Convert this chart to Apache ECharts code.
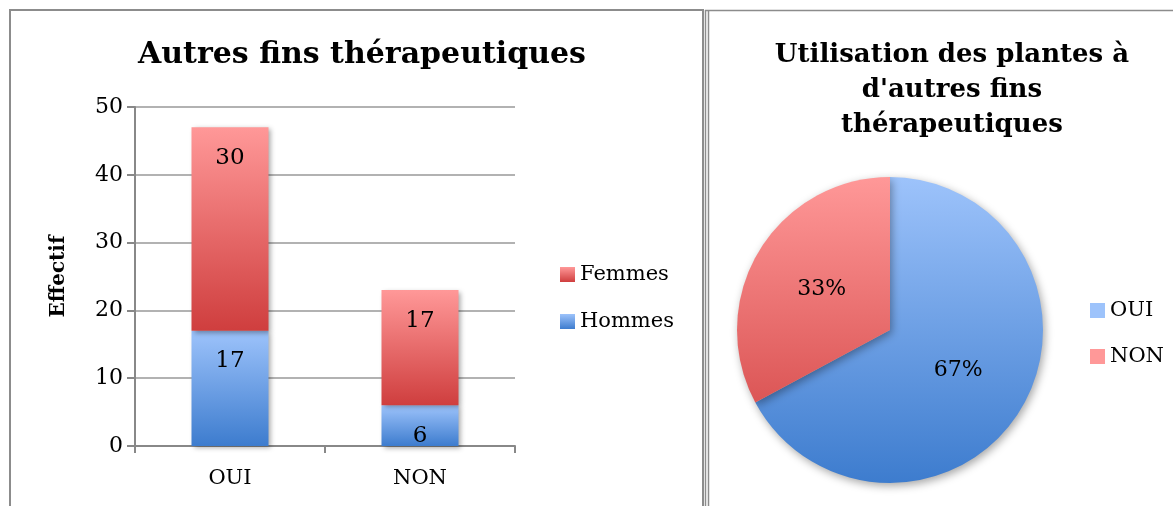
<!DOCTYPE html>
<html>
<head>
<meta charset="utf-8">
<script src="https://cdn.jsdelivr.net/npm/echarts@6/dist/echarts.min.js"></script>
<style>
  html, body { margin: 0; padding: 0; background: #fff; }
  #main { width: 1173px; height: 506px; }
</style>
</head>
<body>
<div id="main"></div>
<script>
// data
var categories = ['OUI', 'NON'];
var hommes = [17, 6];
var femmes = [30, 17];
var pieNames = ['OUI', 'NON'];
var pieValues = [47, 23];

var serif = 'DejaVu Serif';

function grad(top, bottom) {
    return new echarts.graphic.LinearGradient(0, 0, 0, 1, [
        { offset: 0, color: top },
        { offset: 1, color: bottom }
    ]);
}
// pie gradient over the whole disc (pixel coords)
function pieGrad(top, bottom) {
    return new echarts.graphic.LinearGradient(0, 177, 0, 483, [
        { offset: 0, color: top },
        { offset: 1, color: bottom }
    ], true);
}

var blueTop = '#9dc3fb', blueBot = '#3d7cce';
var redTop = '#ff9898', redBot = '#cf3e3e';

var myChart = echarts.init(document.getElementById('main'));

var barLabel = {
    show: true,
    position: 'insideTop',
    distance: 19,
    fontFamily: serif,
    fontSize: 23,
    color: '#000'
};
var barShadow = {
    shadowBlur: 5,
    shadowOffsetX: 2,
    shadowOffsetY: 2,
    shadowColor: 'rgba(0,0,0,0.35)'
};

var option = {
    animation: false,
    backgroundColor: '#fff',
    title: [{
        text: 'Autres fins thérapeutiques',
        left: 357,
        top: 35,
        textAlign: 'center',
        textStyle: { fontFamily: serif, fontSize: 30, fontWeight: 'bold', color: '#000' }
    }, {
        text: "Utilisation des plantes à\nd'autres fins\nthérapeutiques",
        left: 947,
        top: 33,
        textAlign: 'center',
        textStyle: { fontFamily: serif, fontSize: 26, fontWeight: 'bold', color: '#000', lineHeight: 35 }
    }],
    legend: [{
        data: ['Femmes', 'Hommes'],
        orient: 'vertical',
        left: 555,
        top: 259,
        icon: 'rect',
        itemWidth: 15,
        itemHeight: 15,
        itemGap: 26,
        textStyle: { fontFamily: serif, fontSize: 21, color: '#000' }
    }, {
        data: pieNames,
        orient: 'vertical',
        left: 1085,
        top: 295,
        icon: 'rect',
        itemWidth: 15,
        itemHeight: 15,
        itemGap: 25,
        textStyle: { fontFamily: serif, fontSize: 21, color: '#000' }
    }],
    grid: { left: 135, right: 658, top: 107, bottom: 60 },
    xAxis: {
        type: 'category',
        data: categories,
        axisLine: { lineStyle: { color: '#888', width: 2 } },
        axisTick: { show: true, length: 7, lineStyle: { color: '#888', width: 2 } },
        axisLabel: { fontFamily: serif, fontSize: 21, color: '#000', margin: 22 }
    },
    yAxis: {
        type: 'value',
        min: 0,
        max: 50,
        interval: 10,
        name: 'Effectif',
        nameLocation: 'middle',
        nameGap: 66,
        nameTextStyle: { fontFamily: serif, fontSize: 20, fontWeight: 'bold', color: '#000' },
        axisLine: { show: true, lineStyle: { color: '#888', width: 2 } },
        axisTick: { show: true, length: 8, lineStyle: { color: '#888', width: 2 } },
        splitLine: { lineStyle: { color: '#999', width: 1.5 } },
        axisLabel: { fontFamily: serif, fontSize: 22, color: '#000', margin: 12 }
    },
    series: [{
        name: 'Hommes',
        type: 'bar',
        stack: 'total',
        barWidth: 77,
        data: hommes,
        label: barLabel,
        itemStyle: Object.assign({ color: grad(blueTop, blueBot) }, barShadow)
    }, {
        name: 'Femmes',
        type: 'bar',
        stack: 'total',
        barWidth: 77,
        data: femmes,
        label: barLabel,
        itemStyle: Object.assign({ color: grad(redTop, redBot) }, barShadow)
    }, {
        name: 'pie',
        type: 'pie',
        center: [890, 330],
        radius: 153,
        startAngle: 90,
        clockwise: true,
        data: [
            { name: pieNames[0], value: pieValues[0], itemStyle: { color: pieGrad(blueTop, blueBot) } },
            { name: pieNames[1], value: pieValues[1], itemStyle: { color: pieGrad(redTop, redBot) } }
        ],
        itemStyle: {
            borderWidth: 0,
            shadowBlur: 8,
            shadowOffsetX: 2,
            shadowOffsetY: 3,
            shadowColor: 'rgba(0,0,0,0.35)'
        },
        label: {
            show: true,
            position: 'inside',
            fontFamily: serif,
            fontSize: 22,
            color: '#000',
            formatter: function (p) { return Math.round(p.percent) + '%'; }
        },
        labelLine: { show: false },
        emphasis: { disabled: true }
    }],
    graphic: [{
        type: 'rect',
        shape: { x: 10, y: 10, width: 693, height: 520 },
        style: { fill: null, stroke: '#8c8c8c', lineWidth: 2 },
        silent: true
    }, {
        type: 'line',
        shape: { x1: 705.5, y1: 10, x2: 705.5, y2: 506 },
        style: { stroke: '#8c8c8c', lineWidth: 1.5 },
        silent: true
    }, {
        type: 'line',
        shape: { x1: 708.5, y1: 10, x2: 708.5, y2: 506 },
        style: { stroke: '#8c8c8c', lineWidth: 1.5 },
        silent: true
    }, {
        type: 'line',
        shape: { x1: 705, y1: 10.5, x2: 1173, y2: 10.5 },
        style: { stroke: '#8c8c8c', lineWidth: 1.5 },
        silent: true
    }]
};

myChart.setOption(option);
</script>
</body>
</html>
